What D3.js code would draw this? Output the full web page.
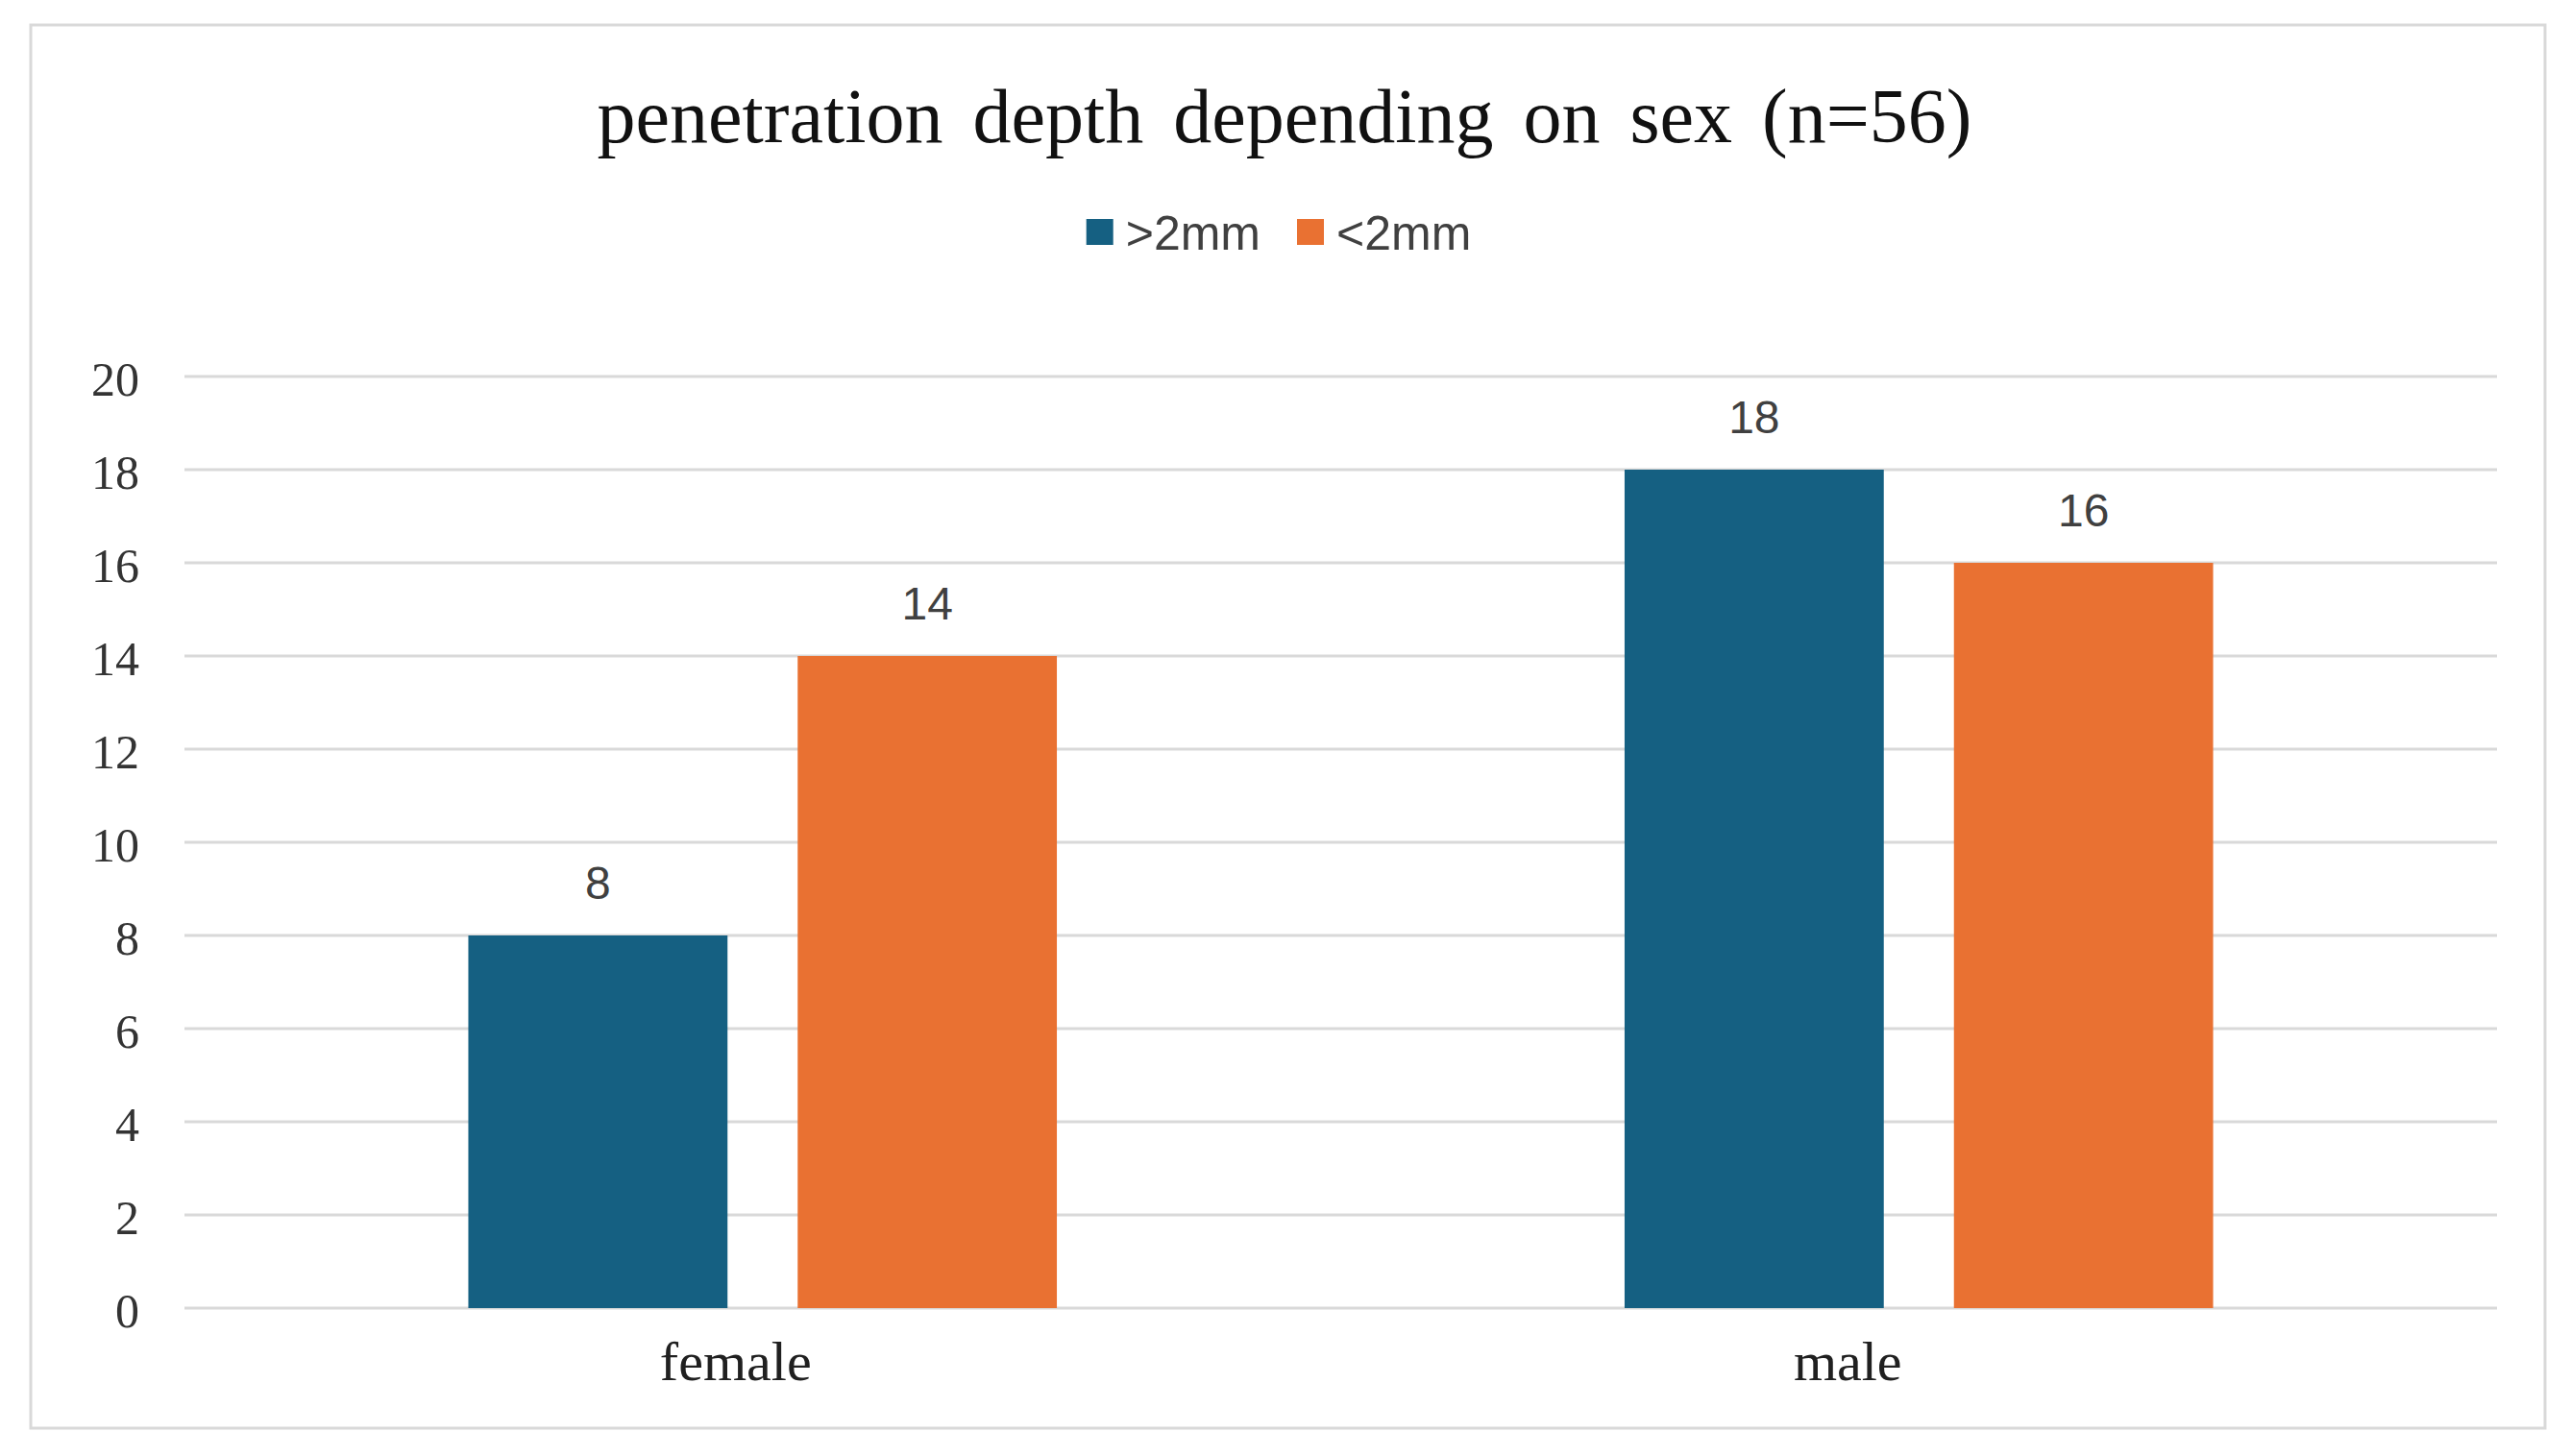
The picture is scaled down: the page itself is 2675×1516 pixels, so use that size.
<!DOCTYPE html>
<html>
<head>
<meta charset="utf-8">
<script src="https://cdn.jsdelivr.net/npm/d3@7"></script>
<style>
  html, body { margin: 0; padding: 0; background: #fff; }
</style>
</head>
<body>
<svg id="chart"></svg>
<script>
const W = 2675, H = 1516

const categories = ["female", "male"]
const seriesNames = [">2mm", "<2mm"]
const seriesColors = ["#156082", "#E97132"]
const values = [
    [8, 14],   // female: >2mm, <2mm
    [18, 16]   // male
]
const yTicks = [0, 2, 4, 6, 8, 10, 12, 14, 16, 18, 20]
const title = "penetration depth depending on sex (n=56)"

const svg = d3.select("#chart")
    .attr("width", W)
    .attr("height", H)
    .attr("viewBox", "0 0 " + W + " " + H)

svg.append("rect")
    .attr("x", 32).attr("y", 26)
    .attr("width", 2617).attr("height", 1461)
    .attr("fill", "#fff")
    .attr("stroke", "#d9d9d9")
    .attr("stroke-width", 3)

const plot = { left: 192, right: 2599, top: 392, bottom: 1362 }

const y = d3.scaleLinear().domain([0, 20]).range([plot.bottom, plot.top])

const x0 = d3.scaleBand()
    .domain(categories)
    .range([plot.left, plot.right])
    .padding(0)

// group of two bars in the middle of each band
const groupW = x0.bandwidth() * 0.509
const x1 = d3.scaleBand()
    .domain(seriesNames)
    .range([0, groupW])
    .paddingInner(0.213)

// gridlines
svg.append("g")
    .selectAll("line")
    .data(yTicks)
    .enter()
    .append("line")
    .attr("x1", plot.left)
    .attr("x2", plot.right)
    .attr("y1", d => y(d))
    .attr("y2", d => y(d))
    .attr("stroke", "#d9d9d9")
    .attr("stroke-width", 3)

// y axis labels
const yAxis = d3.axisLeft(y).tickValues(yTicks).tickSize(0).tickPadding(0)
const yg = svg.append("g")
    .attr("transform", "translate(145,0)")
    .call(yAxis)
yg.select(".domain").remove()
yg.selectAll("text")
    .attr("font-family", "'Liberation Serif', 'Times New Roman', serif")
    .attr("font-size", 50)
    .attr("fill", "#333")
    .attr("dy", "0.38em")

// bars
const groups = svg.append("g")
    .selectAll("g")
    .data(categories)
    .enter()
    .append("g")
    .attr("transform", d => "translate(" + (x0(d) + (x0.bandwidth() - groupW) / 2) + ",0)")

groups.selectAll("rect")
    .data((d, i) => values[i].map((v, j) => ({ key: seriesNames[j], value: v, color: seriesColors[j] })))
    .enter()
    .append("rect")
    .attr("x", d => x1(d.key))
    .attr("y", d => y(d.value))
    .attr("width", x1.bandwidth())
    .attr("height", d => y(0) - y(d.value))
    .attr("fill", d => d.color)

groups.selectAll("text.val")
    .data((d, i) => values[i].map((v, j) => ({ key: seriesNames[j], value: v })))
    .enter()
    .append("text")
    .attr("class", "val")
    .attr("x", d => x1(d.key) + x1.bandwidth() / 2)
    .attr("y", d => y(d.value) - 38)
    .attr("text-anchor", "middle")
    .attr("font-family", "'Liberation Sans', Arial, sans-serif")
    .attr("font-size", 48)
    .attr("fill", "#404040")
    .text(d => d.value)

// category labels (they sit a bit left of the band centre in the original)
const catOffset = [-28, -74]
svg.append("g")
    .selectAll("text")
    .data(categories)
    .enter()
    .append("text")
    .attr("x", (d, i) => x0(d) + x0.bandwidth() / 2 + catOffset[i])
    .attr("y", 1437)
    .attr("text-anchor", "middle")
    .attr("font-family", "'Liberation Serif', 'Times New Roman', serif")
    .attr("font-size", 58)
    .attr("fill", "#202020")
    .text(d => d)

// title
svg.append("text")
    .attr("x", 1337)
    .attr("y", 148)
    .attr("text-anchor", "middle")
    .attr("font-family", "'Liberation Serif', 'Times New Roman', serif")
    .attr("font-size", 80)
    .attr("word-spacing", 11)
    .attr("fill", "#111")
    .text(title)

// legend
const legend = svg.append("g")
let lx = 0
const items = []
seriesNames.forEach((name, i) => {
    const g = legend.append("g")
    g.append("rect")
        .attr("x", 0).attr("y", 228)
        .attr("width", 28).attr("height", 27)
        .attr("fill", seriesColors[i])
    const t = g.append("text")
        .attr("x", 41)
        .attr("y", 260)
        .attr("font-family", "'Liberation Sans', Arial, sans-serif")
        .attr("font-size", 50)
        .attr("fill", "#404040")
        .text(name)
    const w = 41 + t.node().getComputedTextLength()
    items.push({ g: g, w: w })
})
const legendGap = 38
const totalW = d3.sum(items, d => d.w) + legendGap * (items.length - 1)
lx = 1331 - totalW / 2
items.forEach(it => {
    it.g.attr("transform", "translate(" + lx + ",0)")
    lx += it.w + legendGap
})
</script>
</body>
</html>
